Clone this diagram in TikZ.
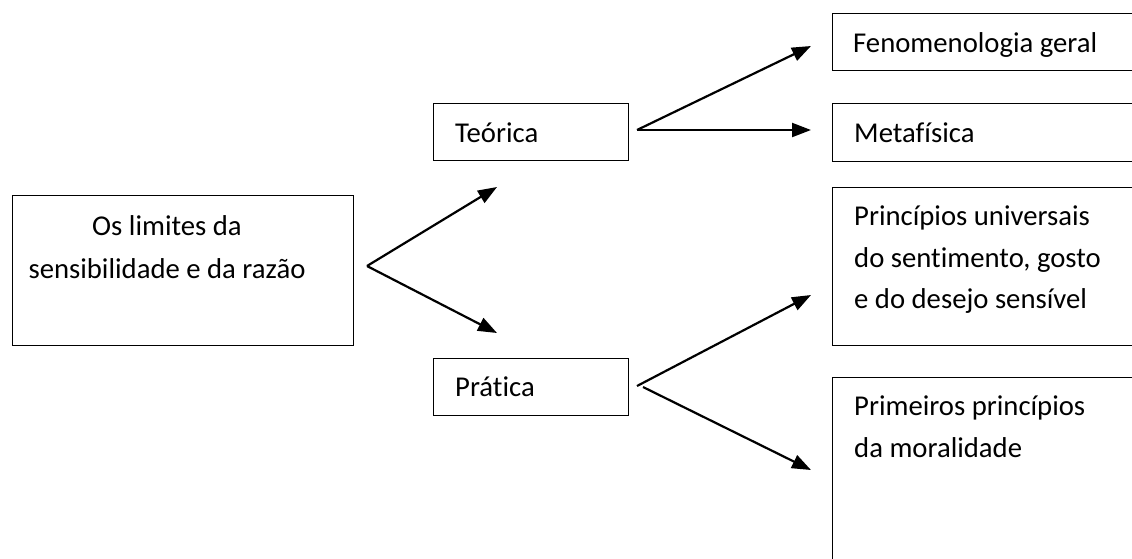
\documentclass[tikz,border=0pt]{standalone}
\usepackage{fontspec}
\setmainfont[Ligatures={NoCommon}]{Carlito}
\usetikzlibrary{arrows.meta}
\begin{document}
\begin{tikzpicture}[x=1pt,y=-1pt,
  box/.style={draw=black, line width=1.4pt, inner sep=0pt, anchor=north west},
  txt/.style={inner sep=0pt, anchor=base west, font=\fontsize{28.7}{42}\selectfont},
  ctxt/.style={inner sep=0pt, anchor=base, font=\fontsize{28.7}{42}\selectfont},
  arr/.style={line width=2.2pt, -{Triangle[length=19pt,width=14pt]}}]
\useasboundingbox (0,0) rectangle (1132,558);
\clip (0,0) rectangle (1132,558);
% boxes
\node[box, minimum width=341pt, minimum height=150pt] (main) at (12,195) {};
\node[box, minimum width=195pt, minimum height=57pt] (teo) at (433,103) {};
\node[box, minimum width=195pt, minimum height=57pt] (pra) at (433,358) {};
\node[box, minimum width=320pt, minimum height=57pt] (fen) at (832,13) {};
\node[box, minimum width=320pt, minimum height=58pt] (met) at (832,103) {};
\node[box, minimum width=320pt, minimum height=158pt] (pri) at (832,187) {};
\node[box, minimum width=320pt, minimum height=220pt] (pme) at (832,377) {};
% texts
\node[ctxt] (t1) at (167,235) {Os limites da};
\node[ctxt] (t2) at (167,278) {sensibilidade e da razão};
\node[txt] (t3) at (455,142) {Teórica};
\node[txt] (t4) at (455,396) {Prática};
\node[txt] (t5) at (853,52) {Fenomenologia geral};
\node[txt] (t6) at (854,142) {Metafísica};
\node[txt] (t7) at (854,225) {Princípios universais};
\node[txt] (t8) at (854,267) {do sentimento, gosto};
\node[txt] (t9) at (854,308) {e do desejo sensível};
\node[txt] (t10) at (854,415) {Primeiros princípios};
\node[txt] (t11) at (854,457) {da moralidade};
% connector points
\coordinate (f1) at (367,266);
\coordinate (ta1) at (497,187);
\coordinate (ta2) at (497,333);
\coordinate (f2) at (637,130);
\coordinate (tb1) at (811,46);
\coordinate (tb2) at (811,130);
\coordinate (f3) at (637,386);
\coordinate (f4) at (643,387);
\coordinate (tc1) at (811,295);
\coordinate (tc2) at (811,470);
% arrows
\draw[arr] (f1) -- (ta1);
\draw[arr] (f1) -- (ta2);
\draw[arr] (f2) -- (tb1);
\draw[arr] (f2) -- (tb2);
\draw[arr] (f3) -- (tc1);
\draw[arr] (f4) -- (tc2);
\end{tikzpicture}
\end{document}
